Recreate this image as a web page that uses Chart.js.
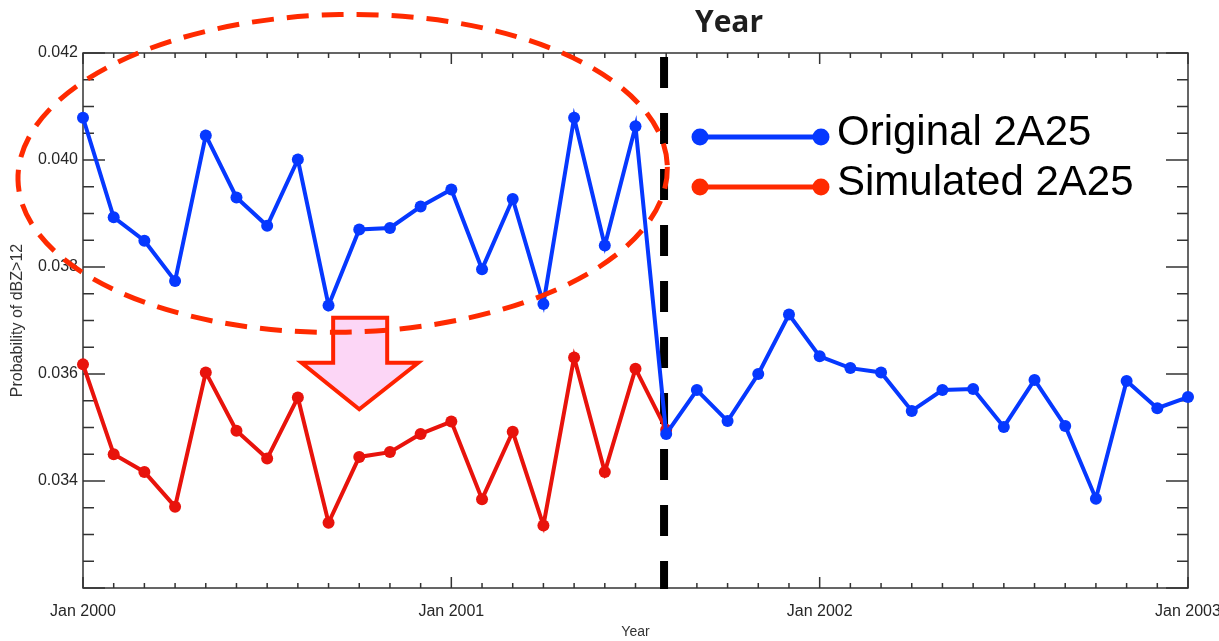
<!DOCTYPE html>
<html>
<head>
<meta charset="utf-8">
<script src="https://cdn.jsdelivr.net/npm/chart.js@4"></script>
<style>
  html, body { margin: 0; padding: 0; background: #fff; }
  canvas { display: block; }
</style>
</head>
<body>
<canvas id="probChart" width="1219" height="641"></canvas>
<script>
// monthly values, Jan 2000 .. Jan 2003 (month index 0..36)
const yearTicks = ['Jan 2000', 'Jan 2001', 'Jan 2002', 'Jan 2003'];
const originalVals = [
  0.04079, 0.03893, 0.03849, 0.03774, 0.04046, 0.03930, 0.03877, 0.04001,
  0.03728, 0.03870, 0.03873, 0.03913, 0.03945, 0.03796, 0.03927, 0.03731,
  0.04079, 0.03840, 0.04063, 0.03488, 0.03570, 0.03512, 0.03600, 0.03711,
  0.03633, 0.03611, 0.03603, 0.03531, 0.03570, 0.03572, 0.03501, 0.03589,
  0.03503, 0.03367, 0.03587, 0.03536, 0.03557
];
const simulatedVals = [
  0.03618, 0.03450, 0.03417, 0.03352, 0.03603, 0.03494, 0.03442, 0.03556,
  0.03322, 0.03445, 0.03454, 0.03488, 0.03511, 0.03366, 0.03492, 0.03317,
  0.03631, 0.03417, 0.03610, 0.03496
];
const seriesNames = ['Original 2A25', 'Simulated 2A25'];

const BLUE = '#0638ff';
const RED = '#e8130c';
const ORANGE_RED = '#ff2a00';
const FONT = '"Liberation Sans", Arial, sans-serif';

function toPoints(vals) {
  return vals.map((v, i) => ({ x: i, y: v }));
}

const decor = {
  id: 'decor',
  beforeDatasetsDraw(chart) {
    const { ctx, chartArea: a, scales: { x, y } } = chart;
    ctx.save();
    ctx.strokeStyle = '#333';
    ctx.lineWidth = 1.5;
    ctx.strokeRect(a.left, a.top, a.right - a.left, a.bottom - a.top);
    ctx.beginPath();
    for (let k = 0; k <= 20; k++) {
      const py = y.getPixelForValue(0.032 + k * 0.0005);
      const len = k % 4 === 0 ? 22 : 11;
      ctx.moveTo(a.left, py); ctx.lineTo(a.left + len, py);
      ctx.moveTo(a.right, py); ctx.lineTo(a.right - len, py);
    }
    for (let m = 0; m <= 36; m++) {
      const px = x.getPixelForValue(m);
      const len = m % 12 === 0 ? 11 : 5;
      ctx.moveTo(px, a.bottom); ctx.lineTo(px, a.bottom - len);
      ctx.moveTo(px, a.top); ctx.lineTo(px, a.top + len);
    }
    ctx.stroke();

    // dashed split line
    const sx = x.getPixelForValue(18.93);
    ctx.strokeStyle = '#000';
    ctx.lineWidth = 8;
    ctx.setLineDash([31, 25]);
    ctx.beginPath();
    ctx.moveTo(sx, a.top + 4);
    ctx.lineTo(sx, a.bottom + 1);
    ctx.stroke();
    ctx.restore();
  },
  afterDraw(chart) {
    const { ctx, scales: { x, y } } = chart;
    ctx.save();

    // down arrow
    const sl = x.getPixelForValue(8.15), sr = x.getPixelForValue(9.91);
    const st = y.getPixelForValue(0.03705), sb = y.getPixelForValue(0.03621);
    const hl = x.getPixelForValue(7.12), hr = x.getPixelForValue(10.92);
    const tx = x.getPixelForValue(9.0), ty = y.getPixelForValue(0.03534);
    ctx.beginPath();
    ctx.moveTo(sl, st); ctx.lineTo(sr, st); ctx.lineTo(sr, sb); ctx.lineTo(hr, sb);
    ctx.lineTo(tx, ty); ctx.lineTo(hl, sb); ctx.lineTo(sl, sb); ctx.closePath();
    ctx.fillStyle = '#fcd6f6';
    ctx.fill();
    ctx.strokeStyle = '#ff2200';
    ctx.lineWidth = 4;
    ctx.lineJoin = 'miter';
    ctx.stroke();

    // dashed ellipse
    const cx = x.getPixelForValue(8.46), cy = y.getPixelForValue(0.03975);
    const rx = x.getPixelForValue(8.46 + 10.58) - cx;
    const ry = cy - y.getPixelForValue(0.03975 + 0.00297);
    ctx.beginPath();
    ctx.ellipse(cx, cy, rx, ry, -0.02, 0, Math.PI * 2);
    ctx.strokeStyle = ORANGE_RED;
    ctx.lineWidth = 5;
    ctx.setLineDash([22, 13]);
    ctx.stroke();
    ctx.setLineDash([]);

    // legend
    const rows = [[seriesNames[0], BLUE, 137], [seriesNames[1], ORANGE_RED, 187]];
    ctx.font = '42px ' + FONT;
    ctx.textBaseline = 'alphabetic';
    ctx.textAlign = 'left';
    rows.forEach(([name, col, ly]) => {
      ctx.strokeStyle = col;
      ctx.fillStyle = col;
      ctx.lineWidth = 5;
      ctx.beginPath();
      ctx.moveTo(700, ly); ctx.lineTo(821, ly);
      ctx.stroke();
      [700, 821].forEach(px => {
        ctx.beginPath(); ctx.arc(px, ly, 8.5, 0, Math.PI * 2); ctx.fill();
      });
      ctx.fillStyle = '#000';
      ctx.fillText(name, 837, ly + 8);
    });

    // pasted bold heading
    ctx.font = 'bold 30px "Open Sans", sans-serif';
    ctx.fillStyle = '#1e1e1e';
    ctx.textAlign = 'center';
    ctx.textBaseline = 'middle';
    ctx.fillText('Year', 729, 23);
    ctx.restore();
  }
};

new Chart(document.getElementById('probChart').getContext('2d'), {
  type: 'line',
  data: {
    datasets: [
      {
        label: seriesNames[0],
        data: toPoints(originalVals),
        borderColor: BLUE,
        backgroundColor: BLUE,
        borderWidth: 4,
        pointRadius: 6,
        pointHoverRadius: 6,
        pointBorderWidth: 0,
        tension: 0,
        clip: false
      },
      {
        label: seriesNames[1],
        data: toPoints(simulatedVals),
        borderColor: RED,
        backgroundColor: RED,
        borderWidth: 4,
        pointRadius: 6,
        pointHoverRadius: 6,
        pointBorderWidth: 0,
        tension: 0,
        clip: false
      }
    ]
  },
  options: {
    responsive: false,
    animation: false,
    layout: { padding: { top: 53, right: 31, left: 0, bottom: 0 } },
    plugins: { legend: { display: false }, tooltip: { enabled: false } },
    scales: {
      x: {
        type: 'linear',
        min: 0,
        max: 36,
        grid: { display: false, drawTicks: false },
        border: { display: false },
        ticks: {
          stepSize: 12,
          padding: 14,
          maxRotation: 0,
          color: '#262626',
          font: { family: FONT, size: 16 },
          callback: v => yearTicks[v / 12] || ''
        },
        title: {
          display: true,
          text: 'Year',
          color: '#333',
          padding: { top: 0, bottom: 0 },
          font: { family: FONT, size: 14 }
        },
        afterFit: s => { s.height = 53; s.paddingLeft = 0; s.paddingRight = 0; }
      },
      y: {
        min: 0.032,
        max: 0.042,
        grid: { display: false, drawTicks: false },
        border: { display: false },
        ticks: {
          stepSize: 0.002,
          padding: 5,
          color: '#262626',
          font: { family: FONT, size: 16 },
          callback: v => (v < 0.0325 ? '' : v.toFixed(3))
        },
        title: {
          display: true,
          text: 'Probability of dBZ>12',
          color: '#333',
          padding: { top: 8, bottom: 0 },
          font: { family: FONT, size: 16 }
        },
        afterFit: s => { s.width = 83; s.paddingTop = 0; s.paddingBottom = 0; }
      }
    }
  },
  plugins: [decor]
});
</script>
</body>
</html>
